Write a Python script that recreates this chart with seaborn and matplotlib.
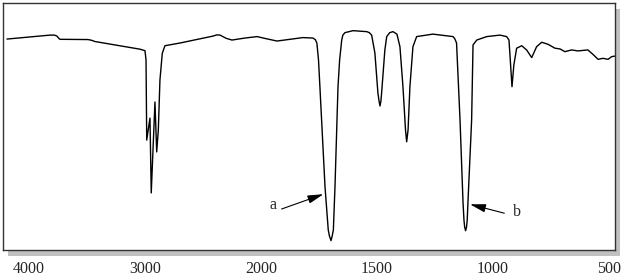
import numpy as np
import pandas as pd
import matplotlib
matplotlib.use("Agg")
import matplotlib.pyplot as plt
from matplotlib.patches import Rectangle
import seaborn as sns

# IR spectrum trace: wavenumber (cm^-1) and transmittance (%)
wavenumber = [4190, 3819, 3780, 3759, 3745, 3733, 3491, 3460, 3431, 3043, 3000, 2991, 2985,
              2957, 2946, 2914, 2899, 2885, 2871, 2851, 2828, 2698, 2414, 2380, 2353, 2300,
              2250, 2140, 2034, 1980, 1931, 1819, 1776, 1766, 1759, 1752, 1746, 1724, 1710,
              1705, 1698, 1693, 1688, 1681, 1668, 1661, 1652, 1647, 1638, 1603, 1544, 1533,
              1523, 1509, 1496, 1491, 1487, 1483, 1480, 1466, 1458, 1445, 1431, 1414, 1401,
              1388, 1377, 1372, 1366, 1358, 1345, 1329, 1259, 1172, 1165, 1157, 1142, 1129,
              1125, 1122, 1118, 1114, 1111, 1108, 1092, 1086, 1070, 1027, 970, 941, 931, 924,
              918, 910, 898, 876, 855, 833, 812, 790, 763, 733, 711, 690, 661, 634, 591, 569,
              547, 526, 504, 488, 474]
transmittance = [85.4, 87.0, 87.0, 86.6, 85.8, 85.3, 85.2, 84.9, 84.4, 81.3, 80.7, 76.9, 44.5,
                 53.4, 23.1, 59.9, 39.7, 48.6, 68.8, 79.6, 82.7, 83.8, 86.6, 87.1, 87.0, 85.7,
                 85.0, 85.8, 86.4, 85.6, 84.6, 86.0, 85.8, 85.2, 83.8, 76.9, 66.1, 25.6, 8.1,
                 5.7, 3.8, 5.7, 8.1, 25.6, 66.1, 76.9, 85.0, 87.0, 88.0, 88.8, 88.4, 88.0,
                 87.0, 79.8, 63.6, 60.3, 58.3, 60.3, 63.6, 81.0, 86.4, 88.0, 88.4, 87.4, 82.3,
                 66.1, 48.6, 43.8, 48.6, 66.1, 82.3, 86.4, 87.4, 86.4, 85.6, 83.8, 52.6, 19.0,
                 12.1, 9.3, 7.8, 9.3, 12.1, 19.0, 52.6, 83.0, 85.0, 86.4, 87.0, 86.4, 85.0, 74.9,
                 66.1, 74.9, 81.7, 82.7, 81.0, 77.9, 82.3, 84.1, 83.3, 81.7, 81.4, 80.3, 81.0,
                 80.6, 81.0, 79.2, 77.2, 77.6, 77.2, 78.3, 78.5]

tick_values = [4000, 3000, 2000, 1500, 1000, 500]
tick_labels = ["4000", "3000", "2000", "1500", "1000", "500"]

# annotations: label, text position, arrow tail, arrow tip (wavenumber, %T)
ann_labels = ["a", "b"]
ann_text = [(1948, 18.2), (898, 15.5)]
ann_tail = [(1911, 16.6), (951, 14.9)]
ann_tip = [(1731, 22.6), (1099, 18.5)]

df = pd.DataFrame({"wavenumber": wavenumber, "T": transmittance})

sns.set_style("white")
plt.rcParams["font.family"] = ["Liberation Serif", "DejaVu Serif"]

W, H = 630, 280
fig = plt.figure(figsize=(W / 100, H / 100), dpi=100)
L, R, T_, B = 3, 615, 3, 250
ax = fig.add_axes([L / W, (H - B) / H, (R - L) / W, (B - T_) / H])

# drop shadow
fig.patches.append(Rectangle(((L + 5) / W, (H - B - 6) / H), (R - L) / W, (B - T_) / H,
                             transform=fig.transFigure, facecolor="#c0c0c0",
                             edgecolor="none", zorder=-5))
ax.set_zorder(1)
ax.set_facecolor("white")


def fwd(w):
    w = np.asarray(w, dtype=float)
    return np.where(w > 2000, 2000 + 0.5 * (w - 2000), w)


def inv(u):
    u = np.asarray(u, dtype=float)
    return np.where(u > 2000, 2000 + 2.0 * (u - 2000), u)


ax.set_xscale("function", functions=(fwd, inv))

sns.lineplot(data=df, x="wavenumber", y="T", ax=ax, color="black", lw=1.0,
             sort=False, estimator=None)

ax.set_xlim(4224, 474)
ax.set_ylim(0, 100)
ax.set_xticks(tick_values)
ax.set_xticklabels(tick_labels)
ax.set_yticks([])
ax.minorticks_off()
ax.tick_params(axis="x", length=0, pad=8, labelsize=11.5)
ax.set_xlabel("")
ax.set_ylabel("")
for s in ax.spines.values():
    s.set_visible(True)
    s.set_color("#333333")
    s.set_linewidth(1.0)

for lab, tp, tl, tip in zip(ann_labels, ann_text, ann_tail, ann_tip):
    ax.text(tp[0], tp[1], lab, ha="center", va="center", fontsize=11.5)
    ax.annotate("", xy=tip, xytext=tl,
                arrowprops=dict(arrowstyle="-|>,head_length=0.95,head_width=0.25",
                                color="black", lw=0.8, shrinkA=0, shrinkB=0,
                                mutation_scale=10))

fig.savefig("out.png", dpi=100)
